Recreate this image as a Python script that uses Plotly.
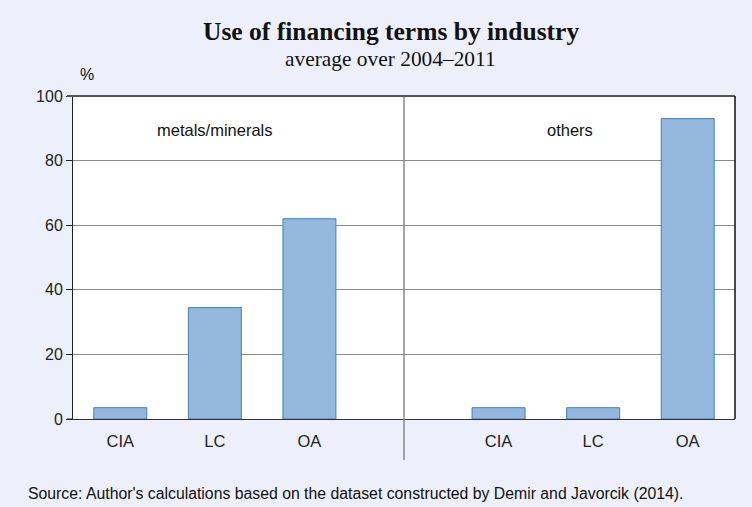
import plotly.graph_objects as go

terms = ['CIA', 'LC', 'OA']
groups = ['metals/minerals', 'others']
metals = [3.5, 34.5, 62]
others = [3.5, 3.5, 93]

bar_fill = '#93b7dd'
bar_line = '#3f7fc0'
bg = '#edf0fa'

W, H = 752, 507
L, R, T, B = 73, 17, 96, 88
pw, ph = W - L - R, H - T - B


def px(x):
    # pixel x -> paper x
    return (x - L) / pw


def py(y):
    # pixel y -> paper y
    return (H - B - y) / ph


# slots: 0,1,2 for the first group, 3 empty (divider), 4,5,6 second group
x_pos = [0, 1, 2, 4, 5, 6]
labels = terms + terms
values = metals + others

fig = go.Figure()
fig.add_trace(go.Bar(
    x=x_pos, y=values, width=0.56,
    marker=dict(color=bar_fill, line=dict(color=bar_line, width=1)),
    showlegend=False, hoverinfo='y'
))

sans = 'Liberation Sans, Arial'
serif = 'Liberation Serif, Times New Roman'

fig.update_xaxes(
    range=[-0.5, 6.5], tickvals=x_pos, ticktext=labels,
    showgrid=False, showline=True, linecolor='#333', linewidth=1,
    ticks='outside', ticklen=7, tickcolor='rgba(0,0,0,0)', zeroline=False,
    tickfont=dict(family=sans, size=16.5, color='#222'),
)
fig.update_yaxes(
    range=[0, 100], tickvals=[0, 20, 40, 60, 80, 100],
    showgrid=True, gridcolor='#8a8a8a', gridwidth=1,
    showline=True, linecolor='#222', linewidth=1,
    ticks='outside', ticklen=6, tickcolor='#222',
    zeroline=False,
    tickfont=dict(family=sans, size=16, color='#222')
)

shapes = [
    # divider between groups, extends below the axis
    dict(type='line', xref='x', yref='paper', x0=3, x1=3, y0=py(460), y1=1,
         line=dict(color='#888', width=1.5)),
    # top border
    dict(type='line', xref='paper', yref='paper', x0=px(67), x1=1, y0=1, y1=1,
         line=dict(color='#555', width=2)),
    # right border
    dict(type='line', xref='paper', yref='paper', x0=1, x1=1, y0=0, y1=1,
         line=dict(color='#111', width=1.5)),
    # bottom line extension left of y axis
    dict(type='line', xref='paper', yref='paper', x0=px(67), x1=0, y0=0, y1=0,
         line=dict(color='#333', width=1)),
]


def note(text, x, y, size, family=sans, xref='paper', xanchor='center'):
    return dict(text=text, x=x, y=py(y), xref=xref, yref='paper',
                showarrow=False, xanchor=xanchor, yanchor='middle',
                font=dict(family=family, size=size, color='#111'))


annotations = [
    note('<b>Use of financing terms by industry</b>', px(391), 32, 25.5, serif),
    note('average over 2004–2011', px(390), 59, 21.4, serif),
    note('%', px(87), 75, 16),
    note(groups[0], 1, 130, 16.5, xref='x'),
    note(groups[1], 4.75, 130, 16.5, xref='x'),
    note("Source: Author's calculations based on the dataset constructed by Demir and Javorcik (2014).",
         px(26), 493, 15.8, xanchor='left'),
]

fig.update_layout(
    width=W, height=H,
    margin=dict(l=L, r=R, t=T, b=B),
    paper_bgcolor=bg, plot_bgcolor='white',
    shapes=shapes, annotations=annotations,
)

fig.write_html('out.html', config={'displayModeBar': False},
               post_script="document.body.style.margin='0';")
